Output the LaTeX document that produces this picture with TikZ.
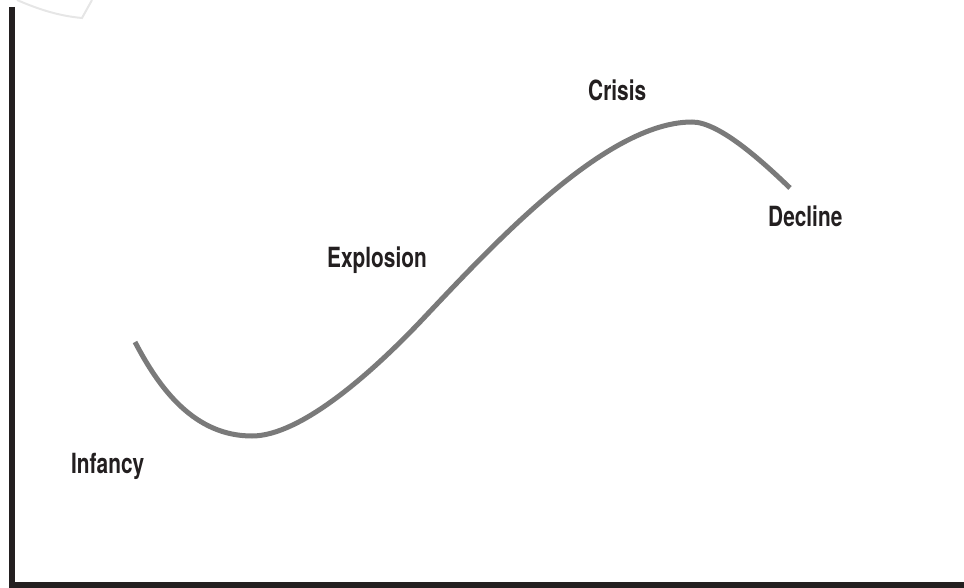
\documentclass[tikz,border=0pt]{standalone}
\usepackage{fontspec}
\usepackage{tikz}
\usetikzlibrary{positioning}
\newfontfamily\stagefont{TeX Gyre Heros}[FakeStretch=0.75]
\definecolor{axisblack}{RGB}{35,31,32}
\definecolor{curvegray}{RGB}{122,122,122}
\definecolor{faintgray}{RGB}{230,230,230}

\begin{document}
\begin{tikzpicture}[
    x=1pt, y=-1pt,
    every node/.style={font=\stagefont\bfseries\fontsize{27.8}{30}\selectfont},
    stage/.style={anchor=base west, inner sep=0pt, text=axisblack},
    axis/.style={draw=axisblack, line width=6pt, line join=miter},
    lifecurve/.style={draw=curvegray, line width=5pt}
  ]
    \useasboundingbox (0,0) rectangle (964,588);

    % faint mark at the top edge
    \draw[faintgray, line width=2pt] (17,0) .. controls (40,10) and (60,16) .. (82,18) -- (92,0);

    % axes
    \coordinate (top) at (12,7);
    \coordinate (origin) at (12,585);
    \coordinate (right) at (964,585);
    \draw[axis] (top) -- (origin) -- (right);

    % stages of the curve
    \coordinate (start) at (135,342);
    \coordinate (low) at (252,436);
    \coordinate (mid) at (420,322);
    \coordinate (peak) at (692,122);
    \coordinate (stop) at (790,188);
    \draw[lifecurve] (start) .. controls (160,390) and (195,436) .. (low)
      .. controls (300,436) and (370,374.5) .. (mid)
      .. controls (490,248) and (605,122) .. (peak)
      .. controls (720,122) and (765,164) .. (stop);

    % labels
    \node[stage] (infancy) at (71,473) {Infancy};
    \node[stage] (explosion) at (327,267) {Explosion};
    \node[stage] (crisis) at (588,101) {Crisis};
    \node[stage] (decline) at (768,227) {Decline};
  \end{tikzpicture}
\end{document}
